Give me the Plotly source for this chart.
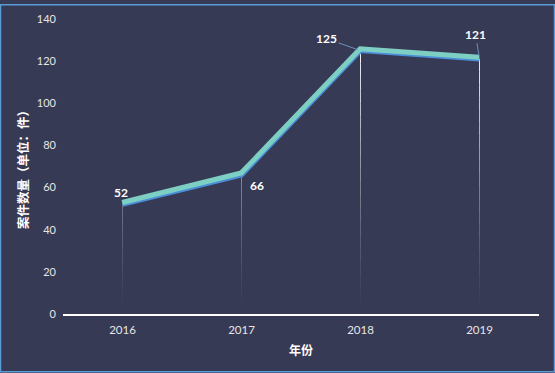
import plotly.graph_objects as go

years = ["2016", "2017", "2018", "2019"]
cases = [52, 66, 125, 121]
y_ticks = [0, 20, 40, 60, 80, 100, 120, 140]

W, H = 555, 373
ML, MR, MT, MB = 63, 16, 15, 59
PW = W - ML - MR
PH = H - MT - MB
BG = "#373A54"
FONT = "Lato, 'Noto Sans CJK SC', sans-serif"

fig = go.Figure()

# drop lines with fading gradient (drawn as traces)
n = 20
for yr, v in zip(years, cases):
    for k in range(n):
        y0 = v * k / n
        y1 = v * (k + 1) / n
        mid = (y0 + y1) / 2
        op = min(1.0, (mid / 125) ** 1.3) * 0.95
        fig.add_trace(go.Scatter(x=[yr, yr], y=[y0, y1], mode="lines",
                                 line=dict(color="rgba(255,255,255,%.3f)" % op, width=1),
                                 hoverinfo="skip", showlegend=False))

# shadow line (main axes)
fig.add_trace(go.Scatter(x=years, y=cases, mode="lines",
                         line=dict(color="#4A8FD8", width=5),
                         hoverinfo="skip", showlegend=False))
# main line (overlaid axes, shifted up slightly)
fig.add_trace(go.Scatter(x=years, y=cases, mode="lines",
                         line=dict(color="#7ECFC3", width=5),
                         xaxis="x2", yaxis="y2", showlegend=False))

shapes = [dict(type="rect", xref="paper", yref="paper",
               x0=-(ML - 0.5) / PW, x1=1 + (MR - 0.5) / PW,
               y0=-(MB - 0.5) / PH, y1=1 + (MT - 0.5) / PH,
               line=dict(color="#5B9BD5", width=1.5))]

annotations = []
label_cfg = {
    "2016": dict(ax=-2, ay=-12, arrow=False),
    "2017": dict(ax=15, ay=11, arrow=False),
    "2018": dict(ax=-34, ay=-12, arrow=True),
    "2019": dict(ax=-4, ay=-25, arrow=True),
}
for i, (yr, v) in enumerate(zip(years, cases)):
    c = label_cfg[yr]
    if c["arrow"]:
        a = dict(x=i, y=v, xref="x", yref="y", text="<b>%d</b>" % v,
                 font=dict(family=FONT, size=12, color="white"),
                 showarrow=True, ax=c["ax"], ay=c["ay"],
                 arrowhead=0, arrowwidth=1, arrowcolor="#6E8FB8", standoff=3)
    else:
        a = dict(x=i, y=v, xref="x", yref="y", text="<b>%d</b>" % v,
                 font=dict(family=FONT, size=12, color="white"),
                 showarrow=False, xshift=c["ax"], yshift=-c["ay"])
    annotations.append(a)

fig.update_layout(
    width=W, height=H,
    margin=dict(l=ML, r=MR, t=MT, b=MB),
    paper_bgcolor=BG, plot_bgcolor=BG,
    font=dict(family=FONT, color="#E6E6E6", size=11),
    showlegend=False,
    shapes=shapes,
    annotations=annotations,
    xaxis=dict(type="category", categoryorder="array", categoryarray=years,
               range=[-0.5, 3.5], showgrid=False, zeroline=False,
               showline=True, linecolor="white", linewidth=1.5,
               ticks="", tickfont=dict(size=11.5, color="#E6E6E6"),
               ticklabelstandoff=4,
               title=dict(text="<b>年份</b>", font=dict(size=12, color="white"), standoff=12)),
    yaxis=dict(range=[0, 140], tickvals=y_ticks, showgrid=False, zeroline=False,
               showline=False, ticks="", tickfont=dict(size=11, color="#E6E6E6"),
               ticklabelstandoff=6,
               title=dict(text="<b>案件数量（单位：件）</b>", font=dict(size=12.5, color="white"),
                          standoff=5)),
    xaxis2=dict(type="category", categoryorder="array", categoryarray=years,
                range=[-0.5 + 0.003, 3.5 + 0.003], overlaying="x", visible=False),
    yaxis2=dict(range=[-0.9, 139.1], overlaying="y", visible=False),
)

fig.write_html("out.html", config={"displayModeBar": False},
               post_script="document.body.style.margin='0';")
